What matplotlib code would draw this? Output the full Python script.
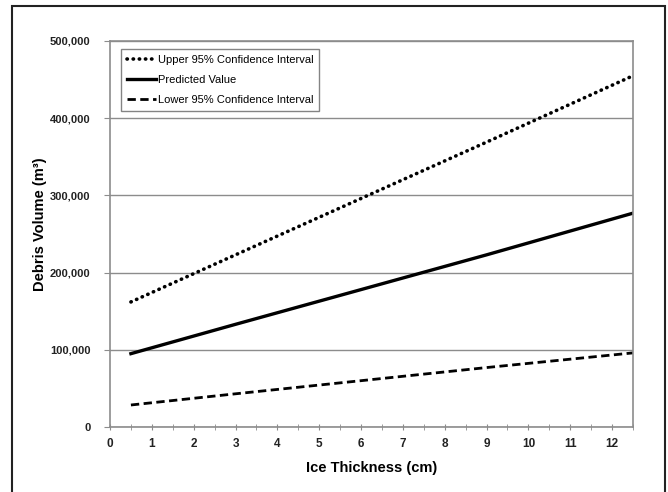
import matplotlib
matplotlib.use('Agg')
import matplotlib.pyplot as plt
import matplotlib.ticker as tick
from matplotlib.patches import Rectangle

plt.rcParams['font.family'] = ['Liberation Sans', 'DejaVu Sans']

thickness = [0.5, 3, 6, 9, 12.5]
upper_ci = [162000, 223000, 296000, 369000, 455000]
predicted = [95000, 133000, 178000, 223000, 277000]
lower_ci = [28500, 43000, 60000, 77000, 96000]

grid_color = '#8c8c8c'

fig = plt.figure(figsize=(6.68, 4.92), dpi=100)
fig.patches.append(Rectangle((12 / 668, -0.05), (665 - 12) / 668, 1.05 - 6 / 492,
                             transform=fig.transFigure, fill=False,
                             edgecolor='#222222', linewidth=1.5))

ax = fig.add_axes([110 / 668, 65 / 492, 523 / 668, 386 / 492])

ax.plot(thickness, upper_ci, color='black', linewidth=2.6,
        linestyle=(0, (0.1, 1.6)), dash_capstyle='round',
        label='Upper 95% Confidence Interval')
ax.plot(thickness, predicted, color='black', linewidth=2.4,
        label='Predicted Value')
ax.plot(thickness, lower_ci, color='black', linewidth=2.0,
        linestyle=(0, (3, 1.6)), label='Lower 95% Confidence Interval')

ax.set_xlim(0, 12.5)
ax.set_ylim(0, 500000)
ax.xaxis.set_major_locator(tick.MultipleLocator(1))
ax.xaxis.set_minor_locator(tick.MultipleLocator(0.5))
ax.yaxis.set_major_locator(tick.MultipleLocator(100000))
ax.yaxis.set_major_formatter(tick.FuncFormatter(lambda v, p: '{:,.0f}'.format(v)))

ax.grid(axis='y', color=grid_color, linewidth=1.0)
ax.set_axisbelow(True)
for side in ['left', 'right', 'top', 'bottom']:
    ax.spines[side].set_color(grid_color)
    ax.spines[side].set_linewidth(1.2)

ax.tick_params(axis='x', which='both', direction='inout', length=4,
               color=grid_color, labelsize=8.5, pad=6)
ax.tick_params(axis='y', which='major', direction='out', length=4,
               color=grid_color, labelsize=8, pad=10)
for lab in ax.get_xticklabels() + ax.get_yticklabels():
    lab.set_fontweight('bold')
    lab.set_color('#222222')

ax.set_xlabel('Ice Thickness (cm)', fontsize=10.5, fontweight='bold', labelpad=8)
ax.set_ylabel('Debris Volume (m³)', fontsize=10.5, fontweight='bold')
ax.yaxis.set_label_coords((47 - 110) / 523, (427 - 224) / 386)

leg = ax.legend(loc='upper left', bbox_to_anchor=(11 / 523, 1 - 8 / 386),
                fontsize=8, frameon=True, fancybox=False, handlelength=2.6,
                handletextpad=0.15, borderpad=0.55, labelspacing=0.9,
                borderaxespad=0)
leg.get_frame().set_edgecolor('#666666')
leg.get_frame().set_linewidth(1.0)

fig.savefig('out.png', dpi=100)
